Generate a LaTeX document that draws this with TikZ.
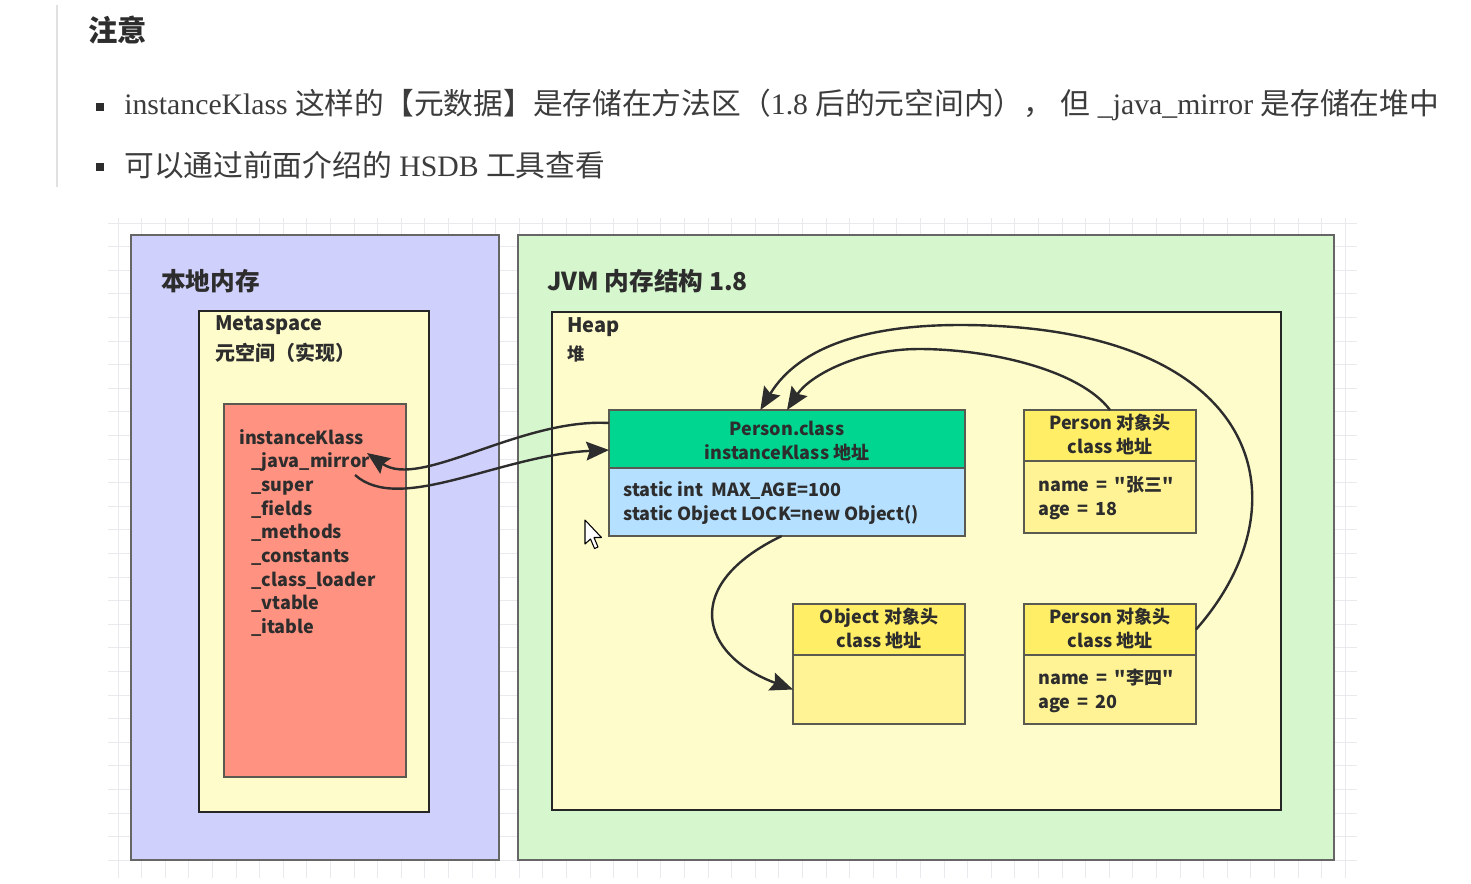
\documentclass[tikz,border=0pt]{standalone}
\usepackage{fontspec}
\setmainfont{Noto Sans CJK SC}
\newfontfamily\ser{Liberation Serif}
\newfontfamily\dg{Noto Sans CJK SC}
\usetikzlibrary{arrows.meta}
\definecolor{purp}{RGB}{208,208,252}
\definecolor{grn}{RGB}{214,246,206}
\definecolor{lemon}{RGB}{255,252,204}
\definecolor{salmon}{RGB}{255,146,128}
\definecolor{teal}{RGB}{0,214,143}
\definecolor{skyb}{RGB}{182,224,255}
\definecolor{yhead}{RGB}{255,238,102}
\definecolor{ybody}{RGB}{255,243,150}
\definecolor{txtc}{RGB}{45,45,45}
\definecolor{toptxt}{RGB}{60,60,60}
\definecolor{gridc}{RGB}{234,234,238}
\definecolor{bordc}{RGB}{90,90,80}
\definecolor{arrc}{RGB}{45,45,45}
\tikzset{
  box/.style={draw=bordc, line width=0.9pt, inner sep=0pt, outer sep=0pt, anchor=north west},
  outerbox/.style={box, draw=black!60, line width=1.1pt},
  heavybox/.style={box, draw=black!85, line width=2.2pt},
  lbl/.style={inner sep=0pt, anchor=base west, text=txtc, font={\dg\bfseries\fontsize{13.5pt}{18pt}\selectfont}},
  clbl/.style={lbl, anchor=center, align=center},
  title/.style={inner sep=0pt, anchor=west, text=txtc, font={\dg\bfseries\fontsize{18.5pt}{22pt}\selectfont}},
  sub/.style={inner sep=0pt, anchor=west, text=txtc, font={\dg\bfseries\fontsize{15pt}{18pt}\selectfont}},
  toptext/.style={inner sep=0pt, anchor=west, text=toptxt, font={\fontsize{22.3pt}{26pt}\selectfont}},
  bul/.style={fill=txtc, inner sep=0pt, minimum size=6pt},
  gridl/.style={draw=gridc, line width=0.6pt},
  link/.style={draw=arrc, line width=1.8pt, -{Stealth[length=17pt,width=14pt,inset=2.5pt]}},
}
\newcommand{\eqsp}{\hspace{0.4em}=\hspace{0.4em}}
\begin{document}
\begin{tikzpicture}[x=0.75pt,y=-0.75pt]
\useasboundingbox (0,0) rectangle (1471,883);
\fill[white] (0,0) rectangle (1471,883);
% quote rule
\draw[draw={rgb,255:red,225;green,225;blue,225}, line width=1.5pt] (57,5) -- (57,187);
% heading and bullets
\node[inner sep=0pt, anchor=west, text=txtc, font={\bfseries\fontsize{22pt}{26pt}\selectfont}] (head) at (88,30) {注意};
\node[bul] (b1) at (100,107) {};
\node[toptext] (t1) at (124,105) {{\ser instanceKlass }这样的【元数据】是存储在方法区（{\ser 1.8 }后的元空间内），{\ser\ }但{\ser\ \_java\_mirror }是存储在堆中};
\node[bul] (b2) at (100,167) {};
\node[toptext] (t2) at (124,165) {可以通过前面介绍的{\ser\ HSDB }工具查看};
% grid
\foreach \i in {0,...,52} \draw[gridl] (118+23.6*\i,218) -- (118+23.6*\i,878);
\foreach \j in {0,...,27} \draw[gridl] (108,223+23.6*\j) -- (1357,223+23.6*\j);
% native memory
\node[outerbox, fill=purp, minimum width=276pt, minimum height=468.75pt] (nat) at (131,235) {};
\node[title] (natt) at (161,281) {本地内存};
\node[heavybox, fill=lemon, minimum width=172.5pt, minimum height=375.75pt] (meta) at (199,311) {};
\node[sub] (metat) at (215,325) {Metaspace};
\node[sub] (metas) at (215,353) {元空间（实现）};
\node[box, fill=salmon, minimum width=136.5pt, minimum height=279.75pt] (red) at (224,404) {};
\node[lbl] (k0) at (239,444) {instanceKlass};
\foreach \t [count=\i] in {\_java\_mirror,\_super,\_fields,\_methods,\_constants,\_class\_loader,\_vtable,\_itable}
  \node[lbl] (k\i) at (251,444+23.7*\i) {\t};
% JVM
\node[outerbox, fill=grn, minimum width=612pt, minimum height=468.75pt] (jvm) at (518,235) {};
\node[title] (jvmt) at (547,281) {JVM 内存结构 1.8};
\node[heavybox, fill=lemon, minimum width=546.75pt, minimum height=373.5pt] (heap) at (552,312) {};
\node[sub] (heapt) at (567,327) {Heap};
\node[inner sep=0pt, anchor=west, text=txtc, font={\dg\bfseries\fontsize{13pt}{16pt}\selectfont}] (heaps) at (567,354) {堆};
% Person.class
\node[box, fill=teal, minimum width=267pt, minimum height=43.5pt] (pch) at (609,410) {};
\node[box, fill=skyb, minimum width=267pt, minimum height=51pt] (pcb) at (609,468) {};
\node[clbl] (pct) at ([yshift=-1.5pt]pch.center) {Person.class\\instanceKlass 地址};
\node[lbl] (pc1) at (623,496) {static int\ \ MAX\_AGE=100};
\node[lbl] (pc2) at (623,520) {static Object LOCK=new Object()};
% Person 1
\node[box, fill=yhead, minimum width=129pt, minimum height=38.25pt] (p1h) at (1024,410) {};
\node[box, fill=ybody, minimum width=129pt, minimum height=54pt] (p1b) at (1024,461) {};
\node[clbl] (p1t) at ([yshift=1pt]p1h.center) {Person 对象头\\class 地址};
\node[lbl] (p1n) at (1038,491) {name\eqsp"张三"};
\node[lbl] (p1a) at (1038,515) {age\eqsp18};
% Object
\node[box, fill=yhead, minimum width=129pt, minimum height=38.25pt] (objh) at (793,604) {};
\node[box, fill=ybody, minimum width=129pt, minimum height=51.75pt] (objb) at (793,655) {};
\node[clbl] (objt) at ([yshift=1pt]objh.center) {Object 对象头\\class 地址};
% Person 2
\node[box, fill=yhead, minimum width=129pt, minimum height=38.25pt] (p2h) at (1024,604) {};
\node[box, fill=ybody, minimum width=129pt, minimum height=51.75pt] (p2b) at (1024,655) {};
\node[clbl] (p2t) at ([yshift=1pt]p2h.center) {Person 对象头\\class 地址};
\node[lbl] (p2n) at (1038,684) {name\eqsp"李四"};
\node[lbl] (p2a) at (1038,708) {age\eqsp20};
% connectors
\coordinate (jmtip) at (367,453);
\coordinate (jmtail) at (355,475);
\draw[link] ([yshift=12pt]pch.west) .. controls (520,418) and (420,490) .. (jmtip);
\draw[link] (jmtail) .. controls (400,515) and (500,455) .. ([yshift=-8.25pt]pch.west);
\draw[link] (p2h.east) .. controls (1310,500) and (1260,325) .. (960,325) .. controls (870,325) and (800,345) .. ([xshift=-20pt]pch.north);
\draw[link] (p1h.north) .. controls (1080,370) and (990,349) .. (919,349) .. controls (860,349) and (810,375) .. (pch.north);
\draw[link] ([xshift=-4pt]pcb.south) .. controls (680,585) and (700,655) .. (objb.west);
% mouse cursor
\draw[fill=white, draw=black, line width=0.8pt, line join=round] (585,520) -- (585,544) -- (590.5,539) -- (594.5,548.5) -- (598,547) -- (594,537.5) -- (601.5,537.5) -- cycle;
\end{tikzpicture}
\end{document}
